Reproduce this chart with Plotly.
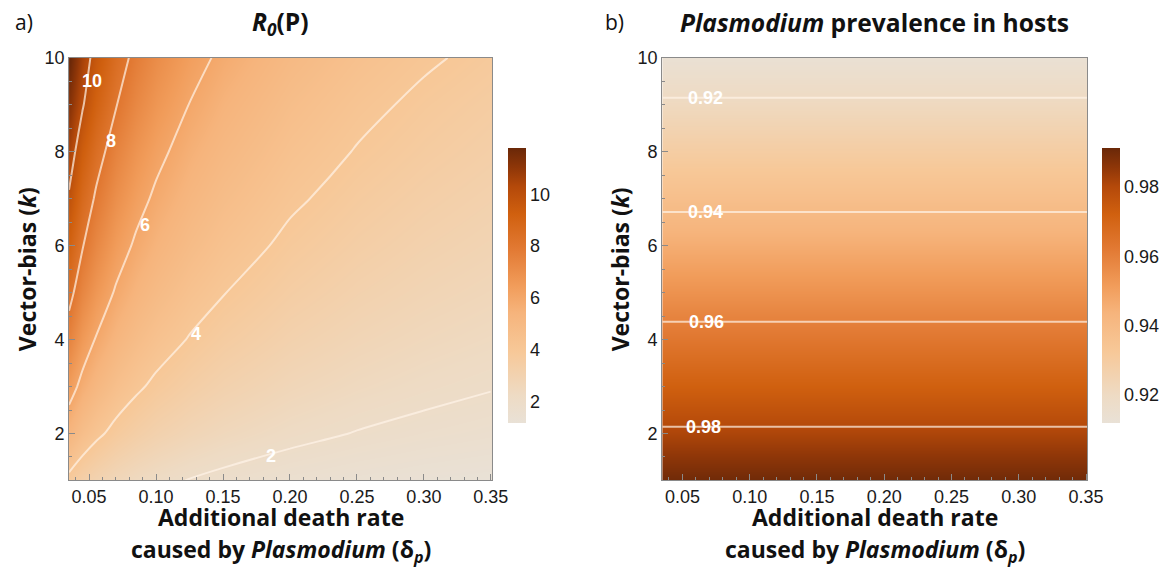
import plotly.graph_objects as go

# ---------------- data ----------------
delta = [0.035, 0.045, 0.055, 0.07, 0.085, 0.10, 0.125, 0.15, 0.20, 0.25, 0.30, 0.35]
k_vals = [1, 2, 3, 4, 5, 6, 7, 8, 9, 10]

# R0(P): rows = k (1..10), columns = delta
r0_k1 = [3.73, 3.29, 2.98, 2.64, 2.39, 2.21, 1.97, 1.80, 1.56, 1.40, 1.27, 1.18]
r0_k2 = [5.28, 4.65, 4.21, 3.73, 3.39, 3.12, 2.79, 2.55, 2.21, 1.97, 1.80, 1.67]
r0_k3 = [6.46, 5.70, 5.16, 4.57, 4.15, 3.82, 3.42, 3.12, 2.70, 2.42, 2.21, 2.04]
r0_k4 = [7.46, 6.58, 5.95, 5.28, 4.79, 4.41, 3.95, 3.60, 3.12, 2.79, 2.55, 2.36]
r0_k5 = [8.34, 7.36, 6.66, 5.90, 5.35, 4.94, 4.41, 4.03, 3.49, 3.12, 2.85, 2.64]
r0_k6 = [9.14, 8.06, 7.29, 6.46, 5.86, 5.41, 4.84, 4.41, 3.82, 3.42, 3.12, 2.89]
r0_k7 = [9.87, 8.71, 7.87, 6.98, 6.33, 5.84, 5.22, 4.77, 4.13, 3.69, 3.37, 3.12]
r0_k8 = [10.55, 9.35, 8.45, 7.48, 6.78, 6.25, 5.59, 5.11, 4.42, 3.96, 3.62, 3.35]
r0_k9 = [11.25, 10.10, 9.10, 8.05, 7.28, 6.70, 5.98, 5.45, 4.71, 4.21, 3.84, 3.56]
r0_k10 = [11.90, 10.60, 9.59, 8.51, 7.72, 7.11, 6.36, 5.81, 5.03, 4.50, 4.11, 3.80]
r0 = [r0_k1, r0_k2, r0_k3, r0_k4, r0_k5, r0_k6, r0_k7, r0_k8, r0_k9, r0_k10]

# Plasmodium prevalence in hosts: one value per k (independent of delta)
prev_delta = [0.035, 0.351]
prevalence = [0.9905, 0.9813, 0.9723, 0.9633, 0.9546, 0.9461, 0.9376, 0.9294, 0.9212, 0.9132]
prev_z = [[p, p] for p in prevalence]

x_ticks = [0.05, 0.10, 0.15, 0.20, 0.25, 0.30, 0.35]
x_ticklabels = ["0.05", "0.10", "0.15", "0.20", "0.25", "0.30", "0.35"]
y_ticks = [2, 4, 6, 8, 10]
r0_cb_ticks = [2, 4, 6, 8, 10]
prev_cb_ticks = [0.92, 0.94, 0.96, 0.98]
prev_cb_labels = ["0.92", "0.94", "0.96", "0.98"]

r0_labels = [(0.052, 9.5, "10"), (0.066, 8.22, "8"), (0.092, 6.45, "6"),
             (0.130, 4.12, "4"), (0.186, 1.53, "2")]
prev_labels = [(0.067, 9.15, "0.92"), (0.067, 6.71, "0.94"),
               (0.068, 4.37, "0.96"), (0.066, 2.14, "0.98")]

# ---------------- style / layout ----------------
W, H = 1172, 579
SC, OFF = 0.986, 8.0   # compensation for the page capture (observed scale / offset)


def fx(px):   # target pixel x -> figure pixel x
    return px / SC


def fy(py):   # target pixel y -> figure pixel y
    return (py - OFF) / SC


cscale = [
    [0.00, "#e9e1d6"],
    [0.10, "#eedbc4"],
    [0.26, "#f7c898"],
    [0.40, "#f6b47c"],
    [0.50, "#f19c5a"],
    [0.63, "#e27a34"],
    [0.76, "#d0600f"],
    [0.86, "#b4490a"],
    [0.93, "#8e3608"],
    [1.00, "#6a2808"],
]
LINE_COL = "rgba(255,244,232,0.7)"
TICK_FONT = dict(family="Liberation Sans, Arial, sans-serif", size=18, color="#1a1a1a")
XLAB_FONT = dict(family="Open Sans, sans-serif", size=23, color="#111")
YLAB_FONT = dict(family="Open Sans, sans-serif", size=23, color="#111")
TITLE_FONT = dict(family="Open Sans, sans-serif", size=24.6, color="#111")
CLAB_FONT = dict(family="Liberation Sans, Arial", size=18, color="white")

# target pixel boxes (as in the reference)
LX0, LX1 = 69, 492
RX0, RX1 = 662, 1087
PY0, PY1 = 56, 480
CB_TOP, CB_BOT = 146, 422

cb_len = (fy(CB_BOT) - fy(CB_TOP)) / H
cb_y = 1 - (fy(CB_TOP) + fy(CB_BOT)) / 2 / H

fig = go.Figure()

# left panel
fig.add_trace(go.Heatmap(
    x=delta, y=k_vals, z=r0, zsmooth="best", colorscale=cscale,
    zmin=1.2, zmax=11.8, xaxis="x", yaxis="y",
    colorbar=dict(x=fx(508) / W, xanchor="left", y=cb_y, yanchor="middle",
                  len=cb_len, lenmode="fraction", thickness=18.3, outlinewidth=0,
                  tickvals=r0_cb_ticks, ticks="", tickfont=TICK_FONT, xpad=0, ypad=0),
))
fig.add_trace(go.Contour(
    x=delta, y=k_vals, z=r0, showscale=False,
    contours=dict(coloring="none", start=2, end=10, size=2),
    line=dict(color=LINE_COL, width=2, smoothing=0.8),
    xaxis="x", yaxis="y", hoverinfo="skip",
))

# right panel
fig.add_trace(go.Heatmap(
    x=prev_delta, y=k_vals, z=prev_z, zsmooth="best", colorscale=cscale,
    zmin=0.912, zmax=0.9914, xaxis="x2", yaxis="y2",
    colorbar=dict(x=fx(1102) / W, xanchor="left", y=cb_y, yanchor="middle",
                  len=cb_len, lenmode="fraction", thickness=18.3, outlinewidth=0,
                  tickvals=prev_cb_ticks, ticktext=prev_cb_labels, ticks="",
                  tickfont=TICK_FONT, xpad=0, ypad=0),
))
fig.add_trace(go.Contour(
    x=prev_delta, y=k_vals, z=prev_z, showscale=False,
    contours=dict(coloring="none", start=0.92, end=0.98, size=0.02),
    line=dict(color=LINE_COL, width=2),
    xaxis="x2", yaxis="y2", hoverinfo="skip",
))

axis_common = dict(showline=True, linecolor="#8a8a8a", linewidth=1, mirror=True,
                   ticks="inside", ticklen=6, tickcolor="#8a8a8a", tickfont=TICK_FONT,
                   showgrid=False, zeroline=False)
xax = dict(axis_common, range=[0.035, 0.351], tickvals=x_ticks, ticktext=x_ticklabels,
           minor=dict(ticks="inside", ticklen=3, dtick=0.01, tick0=0.0, tickcolor="#8a8a8a"))
yax = dict(axis_common, range=[1, 10], tickvals=y_ticks,
           minor=dict(ticks="inside", ticklen=3, dtick=0.5, tick0=0, tickcolor="#8a8a8a"))

B, T = 1 - fy(PY1) / H, 1 - fy(PY0) / H

fig.update_layout(
    width=W, height=H, autosize=False, margin=dict(l=0, r=0, t=0, b=0, pad=0),
    paper_bgcolor="white", plot_bgcolor="white", showlegend=False,
    xaxis=dict(xax, domain=[fx(LX0) / W, fx(LX1) / W], anchor="y"),
    yaxis=dict(yax, domain=[B, T], anchor="x"),
    xaxis2=dict(xax, domain=[fx(RX0) / W, fx(RX1) / W], anchor="y2"),
    yaxis2=dict(yax, domain=[B, T], anchor="x2"),
)


def pann(x, y, text, font, **kw):
    d = dict(x=fx(x) / W, y=1 - fy(y) / H, xref="paper", yref="paper", text=text,
             showarrow=False, font=font, xanchor="center", yanchor="middle")
    d.update(kw)
    return d


ann = []
for x, y, t in r0_labels:
    ann.append(dict(x=x, y=y, xref="x", yref="y", text=f"<b>{t}</b>", showarrow=False,
                    xanchor="center", yanchor="middle", font=CLAB_FONT))
for x, y, t in prev_labels:
    ann.append(dict(x=x, y=y, xref="x2", yref="y2", text=f"<b>{t}</b>", showarrow=False,
                    xanchor="center", yanchor="middle", font=CLAB_FONT))

# panel letters and titles
ann.append(pann(13, 20, "a)", dict(family="Open Sans", size=21, color="#111"), xanchor="left"))
ann.append(pann(603, 20, "b)", dict(family="Open Sans", size=21, color="#111"), xanchor="left"))
ann.append(pann((LX0 + LX1) / 2, 21, "<b><i>R</i><sub><i>0</i></sub>(P)</b>", TITLE_FONT))
ann.append(pann((RX0 + RX1) / 2, 21, "<b><i>Plasmodium</i> prevalence in hosts</b>", TITLE_FONT))

# axis titles
for cx in [(LX0 + LX1) / 2, (RX0 + RX1) / 2]:
    ann.append(pann(cx, 517, "<b>Additional death rate</b>", XLAB_FONT))
    ann.append(pann(cx, 550, "<b>caused by <i>Plasmodium</i> (δ<sub><i>p</i></sub>)</b>", XLAB_FONT))
for cx in [27, 620]:
    ann.append(pann(cx, 268, "<b>Vector-bias (<i>k</i>)</b>", YLAB_FONT, textangle=-90))

fig.update_layout(annotations=ann)
fig.write_html(
    "out.html",
    config={"responsive": False, "displayModeBar": False},
    post_script=(
        "document.documentElement.style.margin='0';"
        "document.documentElement.style.overflow='hidden';"
        "document.body.style.margin='0';document.body.style.overflow='hidden';"
        "var gd=document.getElementById('{plot_id}');"
        "gd.style.position='absolute';gd.style.left='0px';gd.style.top='0px';"
    ),
)
